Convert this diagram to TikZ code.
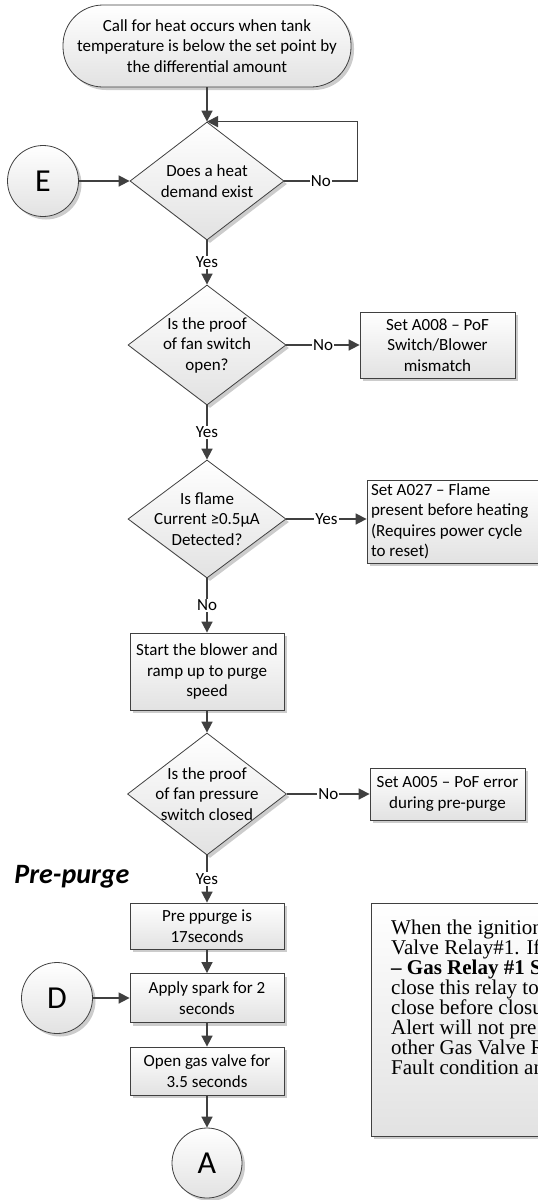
\documentclass[tikz,border=0pt]{standalone}
\usepackage{fontspec}
\setmainfont{Carlito}
\newfontfamily\timesfont{Liberation Serif}
\usetikzlibrary{arrows.meta,shapes.geometric,shadows}
\definecolor{ln}{HTML}{404040}
\definecolor{fillbot}{HTML}{E2E2E2}
\begin{document}
\begin{tikzpicture}[x=1pt,y=-1pt,
  every node/.style={font=\fontsize{17}{20.5}\selectfont},
  shp/.style={draw=ln, line width=0.8pt, top color=white, bottom color=fillbot,
    drop shadow={shadow xshift=3pt, shadow yshift=-3pt, fill=black, opacity=0.2}},
  procbox/.style={shp, rectangle, inner sep=0pt, align=center, minimum width=154pt},
  termbox/.style={shp, rectangle, rounded corners=40pt, inner sep=0pt, align=center},
  dia/.style={shp, diamond, inner sep=0pt},
  conn/.style={shp, circle, inner sep=0pt, minimum size=71pt, font=\fontsize{32}{36}\selectfont},
  dtext/.style={align=center, inner sep=0pt},
  arr/.style={draw=ln, line width=1.6pt, -{Triangle[length=11pt,width=11pt]}},
  lbl/.style={fill=white, inner sep=1pt, text=black}
]
\useasboundingbox (0,0) rectangle (538,1200);
\clip (0,0) rectangle (538,1200);

% top terminator
\node[termbox, minimum width=288pt, minimum height=82pt] (t) at (207,46)
  {Call for heat occurs when tank\\temperature is below the set point by\\the differential amount};

% decision 1
\node[dia, minimum width=154pt, minimum height=118pt] (d1) at (207,181) {};
\node[dtext] (d1t) at (d1) {Does a heat\\demand exist};
\node[conn] (E) at (43,181) {E};

% decision 2
\node[dia, minimum width=158pt, minimum height=120pt] (d2) at (207,345) {};
\node[dtext] (d2t) at (d2) {Is the proof\\of fan switch\\open?};
\node[procbox, minimum width=155pt, minimum height=66pt] (b1) at (437.5,345)
  {Set A008 – PoF\\Switch/Blower\\mismatch};

% decision 3
\node[dia, minimum width=158pt, minimum height=118pt] (d3) at (207,519) {};
\node[dtext] (d3t) at (d3) {Is flame\\Current ≥0.5µA\\Detected?};
\node[procbox, align=flush left, text width=164pt, inner xsep=4pt, minimum width=172pt, minimum height=83pt] (b2) at (453,521.5)
  {Set A027 – Flame\\present before heating\\(Requires power cycle\\to reset)};

% blower
\node[procbox, minimum height=77pt] (b3) at (207,671.5)
  {Start the blower and\\ramp up to purge\\speed};

% decision 4
\node[dia, minimum width=159pt, minimum height=122pt] (d4) at (207,794) {};
\node[dtext] (d4t) at (d4) {Is the proof\\of fan pressure\\switch closed};
\node[procbox, minimum width=155pt, minimum height=52pt] (b4) at (447.5,794)
  {Set A005 – PoF error\\during pre-purge};

\node[font=\fontsize{28}{32}\selectfont\bfseries\itshape] (pp) at (72,877) {Pre-purge};

% bottom boxes
\node[procbox, minimum height=46pt] (b5) at (207,926) {Pre ppurge is\\17seconds};
\node[procbox, minimum height=49pt] (b6) at (207,998) {Apply spark for 2\\seconds};
\node[procbox, minimum height=48pt] (b7) at (207,1071) {Open gas valve for\\3.5 seconds};
\node[conn] (D) at (57,998) {D};
\node[conn, minimum size=70pt] (A) at (207,1163) {A};

% note box
\node[shp, rectangle, minimum width=260pt, minimum height=233pt, anchor=north west] (note) at (371,903) {};
\node[anchor=north west, align=flush left, inner sep=0pt, font=\timesfont\fontsize{21}{20}\selectfont] (notet) at (391,920)
  {When the ignition\\Valve Relay\#1. If\\\textbf{– Gas Relay \#1 S}\\close this relay to\\close before closu\\Alert will not pre\\other Gas Valve R\\Fault condition an};

% connectors
\draw[arr] (t.south) -- (d1.north);
\draw[arr] (d1.east) -- node[lbl]{No} ++(73,0) |- (d1.north);
\draw[arr] (E) -- (d1.west);
\draw[arr] (d1.south) -- node[lbl]{Yes} (d2.north);
\draw[arr] (d2.east) -- node[lbl]{No} (b1.west);
\draw[arr] (d2.south) -- node[lbl]{Yes} (d3.north);
\draw[arr] (d3.east) -- node[lbl]{Yes} (d3.east -| b2.west);
\draw[arr] (d3.south) -- node[lbl]{No} (b3.north);
\draw[arr] (b3.south) -- (d4.north);
\draw[arr] (d4.east) -- node[lbl]{No} (b4.west);
\draw[arr] (d4.south) -- node[lbl]{Yes} (b5.north);
\draw[arr] (b5.south) -- (b6.north);
\draw[arr] (D) -- (b6.west);
\draw[arr] (b6.south) -- (b7.north);
\draw[arr] (b7.south) -- (A.north);
\end{tikzpicture}
\end{document}
